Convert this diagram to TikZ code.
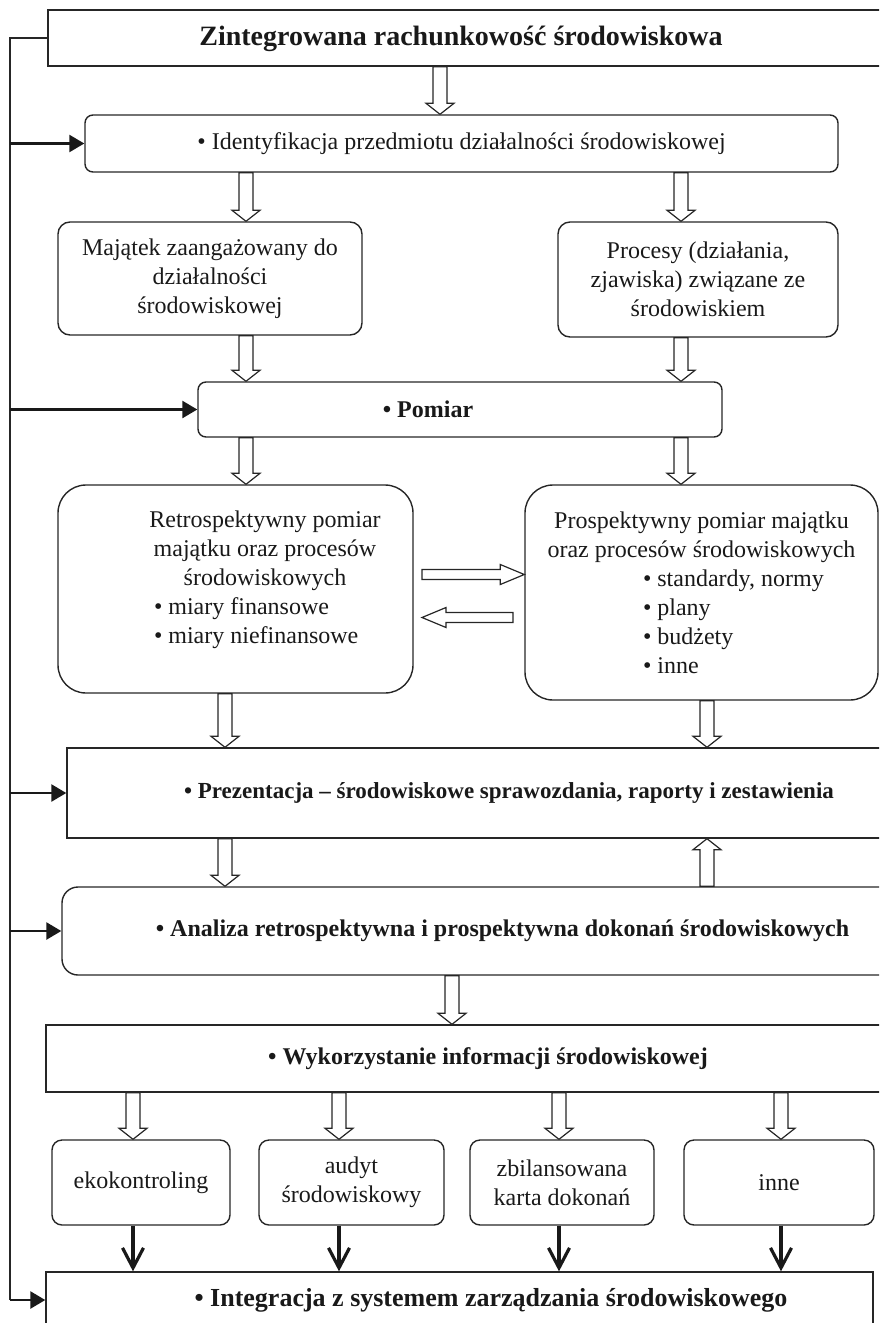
\documentclass[tikz,border=0pt]{standalone}
\usepackage{fontspec}
\setmainfont{Liberation Serif}
\usetikzlibrary{arrows.meta, positioning, decorations.markings}

% outline arrow drawn along the decorated path: shaft half width, head half width, head length
\newcommand{\holarrow}[3]{%
  \draw[draw=black!85, line width=0.6pt, fill=white]
    (0,-#1) -- (\pgfdecoratedpathlength-#3,-#1) -- (\pgfdecoratedpathlength-#3,-#2)
    -- (\pgfdecoratedpathlength,0) -- (\pgfdecoratedpathlength-#3,#2)
    -- (\pgfdecoratedpathlength-#3,#1) -- (0,#1) -- cycle;}
\newcommand{\itm}[2]{\makebox[#1][l]{• #2}}

\begin{document}
\begin{tikzpicture}[
  x=0.5pt, y=-0.5pt,
  every node/.style={font=\fontsize{12}{14.5}\selectfont, align=center, text=black!90},
  box/.style={draw=black!85, line width=0.7pt, rectangle, inner sep=0pt},
  rbox/.style={box, rounded corners=#1},
  rbox/.default=5pt,
  bold/.style={font=\fontsize{#1}{14.5}\selectfont\bfseries},
  bold/.default=12,
  ttl/.style={font=\fontsize{14}{16}\selectfont\bfseries},
  hol/.style={postaction={decorate}, decoration={markings, mark=at position 0 with {\holarrow{3.5pt}{7pt}{5.5pt}}}},
  holh/.style={postaction={decorate}, decoration={markings, mark=at position 0 with {\holarrow{2.5pt}{5pt}{12pt}}}},
  rail/.style={draw=black!85, line width=1pt},
  feed/.style={draw=black!90, line width=1.3pt, -{Triangle[length=7.5pt, width=8.5pt]}},
  solidarr/.style={draw=black!90, line width=1.6pt, -{Straight Barb[length=10pt, width=10.5pt]}}
]
\useasboundingbox (0,0) rectangle (879,1323);
\clip (0,0) rectangle (879,1323);

\node[box, minimum width=431pt, minimum height=28pt] (top) at (479,38) {};
\node[ttl] (topT) at (461,39) {Zintegrowana rachunkowość środowiskowa};
\node[rbox=4pt, minimum width=376.5pt, minimum height=28.5pt] (ident) at (461.5,143.5) {• Identyfikacja przedmiotu działalności środowiskowej};
\node[rbox=6pt, minimum width=152pt, minimum height=56.5pt] (maj) at (210,278.5) {Majątek zaangażowany do\\działalności\\środowiskowej};
\node[rbox=6pt, minimum width=140pt, minimum height=57.5pt] (proc) at (698,279.5) {Procesy (działania,\\zjawiska) związane ze\\środowiskiem};
\node[rbox=4pt, minimum width=262pt, minimum height=27.5pt] (pom) at (460,409.5) {};
\node[bold] (pomT) at (428,409.5) {• Pomiar};
\node[rbox=14pt, minimum width=177.5pt, minimum height=104pt] (retro) at (235.5,589) {};
\node (retroT) at (265,580) {Retrospektywny pomiar\\majątku oraz procesów\\środowiskowych\\\itm{111pt}{miary finansowe}\\\itm{111pt}{miary niefinansowe}};
\node[rbox=14pt, minimum width=176.5pt, minimum height=107.5pt] (prosp) at (701.5,592.5) {Prospektywny pomiar majątku\\oraz procesów środowiskowych\\\itm{58.5pt}{standardy, normy}\\\itm{58.5pt}{plany}\\\itm{58.5pt}{budżety}\\\itm{58.5pt}{inne}};
\node[box, bold=11.5, minimum width=442pt, minimum height=45pt] (prez) at (509,793) {• Prezentacja – środowiskowe sprawozdania, raporty i zestawienia};
\node[rbox=8pt, bold, minimum width=440.5pt, minimum height=44pt] (anal) at (502.5,931) {• Analiza retrospektywna i prospektywna dokonań środowiskowych};
\node[box, bold, minimum width=442pt, minimum height=33.5pt] (wyk) at (488,1058.5) {• Wykorzystanie informacji środowiskowej};
\node[rbox=5pt, minimum width=89pt, minimum height=42.5pt] (eko) at (141,1182.5) {ekokontroling};
\node[rbox=5pt, minimum width=92.5pt, minimum height=42.5pt] (aud) at (351.5,1182.5) {audyt\\środowiskowy};
\node[rbox=5pt, minimum width=92pt, minimum height=42.5pt] (zbil) at (562,1182.5) {zbilansowana\\karta dokonań};
\node[rbox=5pt, minimum width=95pt, minimum height=42.5pt] (inne) at (779,1182.5) {inne};
\node[box, minimum width=413.5pt, minimum height=28pt] (integ) at (459.5,1300) {};
\node[bold=13] (integT) at (491,1300) {• Integracja z systemem zarządzania środowiskowego};

\coordinate (rl) at (10,0);
\coordinate (ca) at (440,0);
\coordinate (cl) at (246,0);
\coordinate (cr) at (681,0);
\coordinate (cd) at (225,0);
\coordinate (ce) at (707,0);
\coordinate (cf) at (452,0);
\coordinate (h1) at (422,574.5);
\coordinate (h2) at (513,617.5);

\path[hol] (ca |- top.south) -- (ca |- ident.north);
\path[hol] (cl |- ident.south) -- (cl |- maj.north);
\path[hol] (cr |- ident.south) -- (cr |- proc.north);
\path[hol] (cl |- maj.south) -- (cl |- pom.north);
\path[hol] (cr |- proc.south) -- (cr |- pom.north);
\path[hol] (cl |- pom.south) -- (cl |- retro.north);
\path[hol] (cr |- pom.south) -- (cr |- prosp.north);
\path[holh] (h1) -- (h1 -| prosp.west);
\path[holh] (h2) -- (h2 -| h1);
\path[hol] (cd |- retro.south) -- (cd |- prez.north);
\path[hol] (ce |- prosp.south) -- (ce |- prez.north);
\path[hol] (cd |- prez.south) -- (cd |- anal.north);
\path[hol] (ce |- anal.north) -- (ce |- prez.south);
\path[hol] (cf |- anal.south) -- (cf |- wyk.north);
\foreach \b/\xx in {eko/133, aud/339, zbil/559, inne/781} {
  \coordinate (bx) at (\xx,0);
  \path[hol] (bx |- wyk.south) -- (bx |- \b.north);
  \draw[solidarr] (bx |- \b.south) -- (bx |- integ.north);
}

\draw[rail] (top.west) -- (rl |- top.west) -- (rl |- integ.west);
\foreach \n in {ident, pom, prez, anal, integ}
  \draw[feed] (rl |- \n.west) -- (\n.west);
\end{tikzpicture}
\end{document}
